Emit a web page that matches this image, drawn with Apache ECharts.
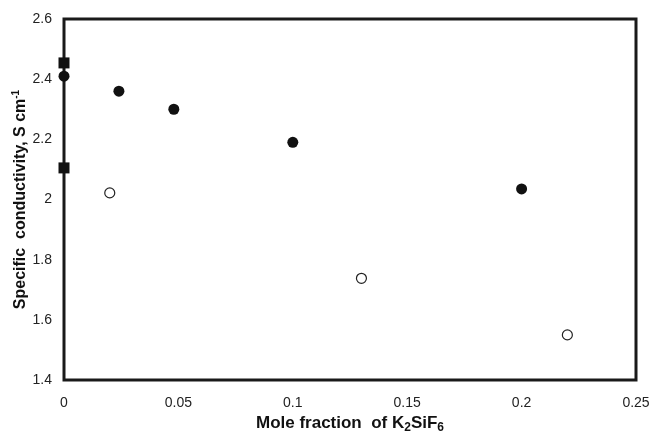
<!DOCTYPE html>
<html>
<head>
<meta charset="utf-8">
<script src="https://cdn.jsdelivr.net/npm/echarts@6/dist/echarts.min.js"></script>
<style>
  html, body { margin: 0; padding: 0; background: #fff; }
  #chart { width: 653px; height: 432px; }
</style>
</head>
<body>
<div id="chart"></div>
<script>
// filled circles
const filledX = [0, 0.024, 0.048, 0.1, 0.2]
const filledY = [2.41, 2.36, 2.30, 2.19, 2.035]
// open circles
const openX = [0.02, 0.13, 0.22]
const openY = [2.022, 1.738, 1.55]
// filled squares (on the y axis)
const squareX = [0, 0]
const squareY = [2.454, 2.105]

const pairs = (xs, ys) => xs.map((x, i) => [x, ys[i]])

const chart = echarts.init(document.getElementById('chart'))

const font = 'Liberation Sans, Arial, sans-serif'
const tickFont = { color: '#222', fontSize: 14, fontFamily: font }

const xRich = {
  a: { fontSize: 17, fontWeight: 'bold', color: '#111', fontFamily: font },
  sub: { fontSize: 12, fontWeight: 'bold', color: '#111', fontFamily: font, padding: [9, 0, 0, 0] },
}
const yRich = {
  a: { fontSize: 16, fontWeight: 'bold', color: '#111', fontFamily: font },
  sup: { fontSize: 10, fontWeight: 'bold', color: '#111', fontFamily: font, padding: [0, 0, 9, 0] },
}

chart.setOption({
  animation: false,
  grid: {
    left: 64,
    right: 17,
    top: 19,
    bottom: 52,
    outerBoundsMode: 'none',
    containLabel: false,
    show: true,
    borderColor: '#1a1a1a',
    borderWidth: 3,
  },
  xAxis: {
    type: 'value',
    min: 0,
    max: 0.25,
    interval: 0.05,
    name: '{a|Mole fraction  of K}{sub|2}{a|SiF}{sub|6}',
    nameLocation: 'middle',
    nameGap: 33,
    nameMoveOverlap: false,
    nameTextStyle: { rich: xRich },
    axisLine: { show: false },
    axisTick: { show: false },
    splitLine: { show: false },
    axisLabel: { ...tickFont, margin: 16 },
  },
  yAxis: {
    type: 'value',
    min: 1.4,
    max: 2.6,
    interval: 0.2,
    name: '{a|Specific  conductivity, S cm}{sup|-1}',
    nameLocation: 'middle',
    nameGap: 34,
    nameMoveOverlap: false,
    nameTextStyle: { rich: yRich },
    axisLine: { show: false },
    axisTick: { show: false },
    splitLine: { show: false },
    axisLabel: { ...tickFont, margin: 12 },
  },
  series: [
    {
      type: 'scatter',
      data: pairs(filledX, filledY),
      symbol: 'circle',
      symbolSize: 11,
      clip: false,
      itemStyle: { color: '#111', opacity: 1 },
    },
    {
      type: 'scatter',
      data: pairs(openX, openY),
      symbol: 'circle',
      symbolSize: 10,
      clip: false,
      itemStyle: { color: '#fff', borderColor: '#222', borderWidth: 1.2, opacity: 1 },
    },
    {
      type: 'scatter',
      data: pairs(squareX, squareY),
      symbol: 'rect',
      symbolSize: 11,
      clip: false,
      itemStyle: { color: '#111', opacity: 1 },
    },
  ],
})
</script>
</body>
</html>
